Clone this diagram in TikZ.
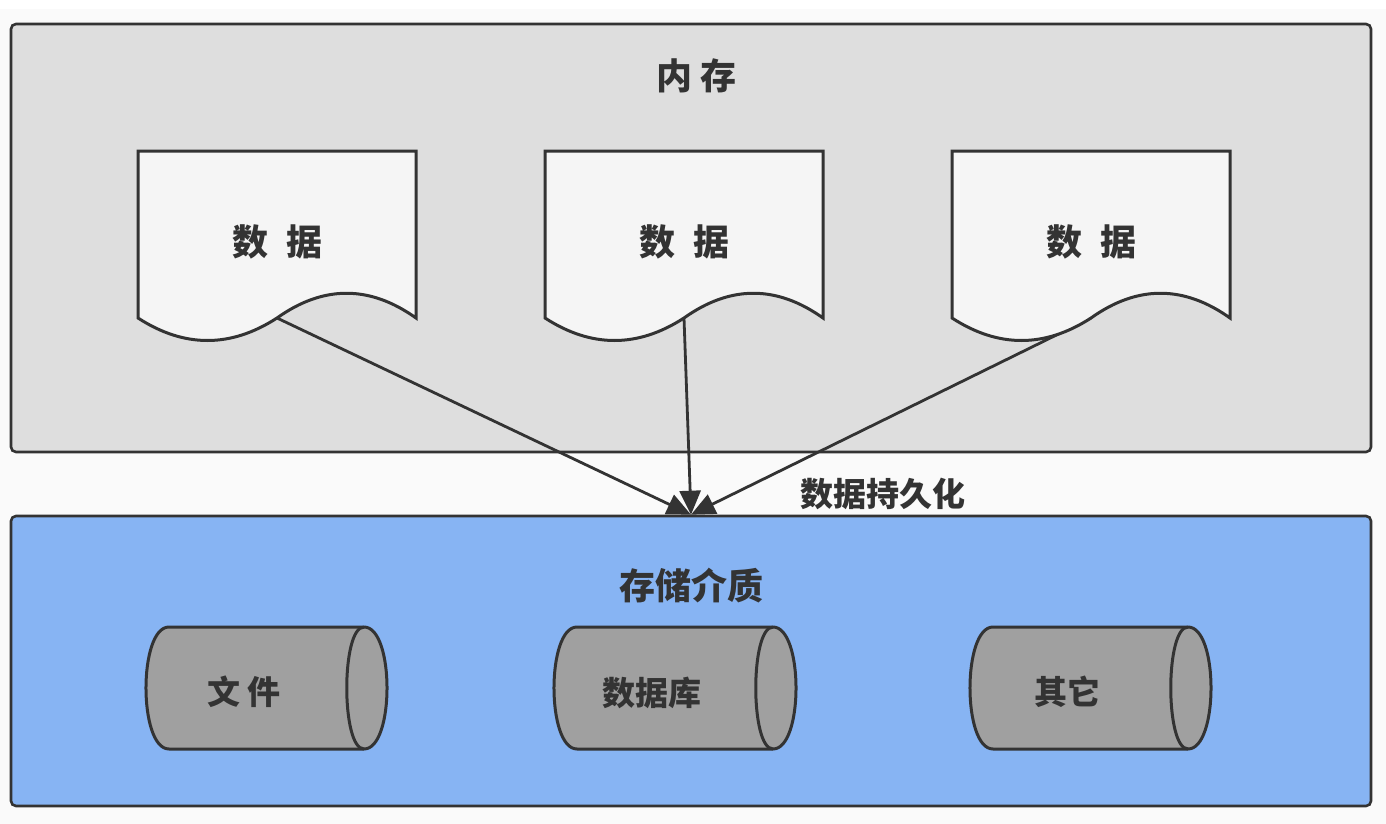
\documentclass[tikz,border=0pt]{standalone}
\usepackage{fontspec}
\newfontfamily\cjk{Noto Sans CJK SC}
\usetikzlibrary{arrows.meta}
\definecolor{ink}{HTML}{333333}
\definecolor{pagebg}{HTML}{FAFAFA}
\definecolor{memfill}{HTML}{DEDEDE}
\definecolor{docfill}{HTML}{F5F5F5}
\definecolor{storefill}{HTML}{87B4F3}
\definecolor{cylfill}{HTML}{A0A0A0}
\tikzset{
  container/.style={draw=ink, line width=2.6pt, rounded corners=5pt, inner sep=0pt},
  docbox/.style={draw=ink, fill=docfill, line width=3pt, line join=miter},
  cylbox/.style={draw=ink, fill=cylfill, line width=3pt},
  bigtext/.style={text=ink, font=\cjk\bfseries\fontsize{36}{40}\selectfont, inner sep=0pt},
  midtext/.style={text=ink, font=\cjk\bfseries\fontsize{33}{38}\selectfont, inner sep=0pt},
  flow/.style={draw=ink, line width=2.8pt, -{Triangle[length=24pt,width=21pt]}}
}
\newcommand\hcyl[5]{% L T R B name
  \draw[cylbox] ({#3-23},#2) .. controls ({#3+7.7},#2) and ({#3+7.7},#4) .. ({#3-23},#4)
     -- ({#1+23},#4) .. controls ({#1-7.7},#4) and ({#1-7.7},#2) .. ({#1+23},#2) -- cycle;
  \draw[cylbox, fill=none] ({#3-23},#2) .. controls ({#3-46},#2) and ({#3-46},#4) .. ({#3-23},#4);
  \coordinate (#5) at ({(#1+#3)/2},{(#2+#4)/2});
}
\newcommand\docpath[1]{% left x
  \draw[docbox] (#1,151) -- ({#1+278},151) -- ({#1+278},318)
     .. controls ({#1+231.7},285) and ({#1+185.3},285) .. ({#1+139},318)
     .. controls ({#1+92.7},348) and ({#1+46.3},348) .. (#1,318) -- cycle;
}
\begin{document}
\begin{tikzpicture}[x=1pt,y=-1pt]
\useasboundingbox (0,0) rectangle (1386,824);
\fill[white] (0,0) rectangle (1386,824);
\fill[pagebg] (0,9) rectangle (1386,824);

% containers
\node[container, fill=memfill, minimum width=1360pt, minimum height=428pt] (mem) at (691,238) {};
\node[container, fill=storefill, minimum width=1360pt, minimum height=290pt] (store) at (691,661) {};
\node[bigtext] (memtitle) at (696.5,76) {内 存};
\node[bigtext] (storetitle) at (691.5,586) {存储介质};

% wave mid points of the documents
\coordinate (w1) at (277,318);
\coordinate (w2) at (684,318);
\coordinate (w3) at (1091,318);

% connectors
\draw[flow] (w1) -- (store.north);
\draw[flow] (w2) -- (store.north);
\draw[flow] (w3) -- (store.north);
\node[midtext] (persist) at (882.5,493.5) {数据持久化};

% documents
\docpath{138}
\docpath{545}
\docpath{952}
\node[bigtext] (d1) at (277,241.5) {数\hspace{0.5em}据};
\node[bigtext] (d2) at (684,241.5) {数\hspace{0.5em}据};
\node[bigtext] (d3) at (1091,241.5) {数\hspace{0.5em}据};

% cylinders
\hcyl{146}{627}{387}{749}{c1}
\hcyl{554}{627}{796}{749}{c2}
\hcyl{970}{627}{1211}{749}{c3}
\node[midtext] (t1) at (244,692) {文 件};
\node[midtext] (t2) at (652,692.5) {数据库};
\node[midtext] (t3) at (1067,692) {其它};
\end{tikzpicture}
\end{document}
